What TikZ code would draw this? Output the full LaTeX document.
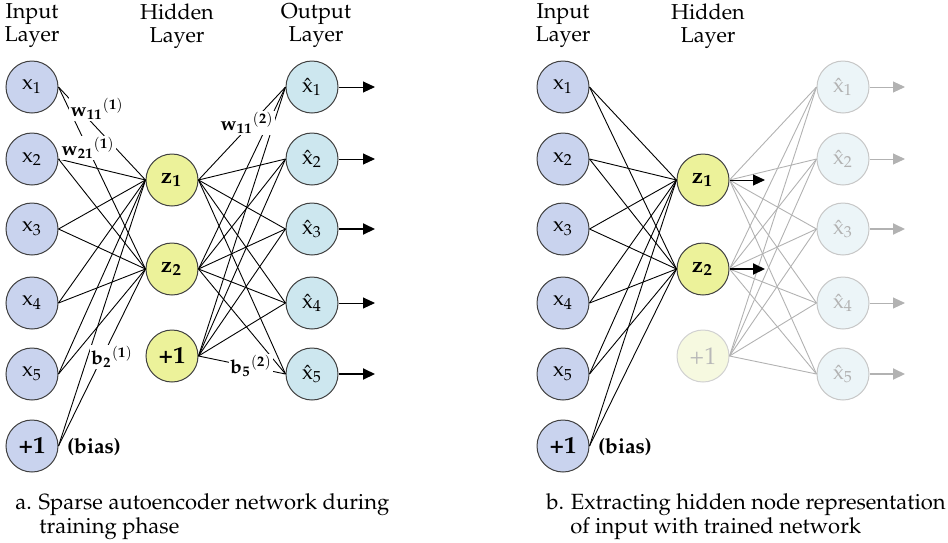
\documentclass[tikz,border=0pt]{standalone}
\usepackage[T1]{fontenc}
\usepackage{mathpazo}
\usepackage{amsmath}
\usetikzlibrary{arrows.meta}

\definecolor{inblue}{RGB}{201,211,238}
\definecolor{hidyellow}{RGB}{236,242,154}
\definecolor{outcyan}{RGB}{205,231,239}
\definecolor{fadecyan}{RGB}{236,245,248}
\definecolor{fadeyellow}{RGB}{246,249,224}
\definecolor{fadegray}{RGB}{178,178,178}

\newcommand{\bsym}[3]{$\mathbf{#1}_{\mathbf{#2}}{}^{\mathbf{#3}}$}

\tikzset{
  unit/.style={circle, draw=black!75, line width=0.5pt, minimum size=26pt,
    inner sep=0pt, font=\fontsize{10.5}{11}\selectfont},
  inunit/.style={unit, fill=inblue},
  hidunit/.style={unit, fill=hidyellow, font=\fontsize{11}{11}\selectfont\bfseries},
  outunit/.style={unit, fill=outcyan},
  ghostout/.style={unit, fill=fadecyan, draw=black!22, text=black!30},
  ghosthid/.style={hidunit, fill=fadeyellow, draw=black!18, text=black!28},
  link/.style={line width=0.45pt},
  ghostlink/.style={line width=0.45pt, draw=fadegray},
  weight/.style={fill=white, inner sep=0.6pt, font=\fontsize{9.5}{10}\selectfont},
  layer/.style={align=center, inner sep=0pt, anchor=north,
    font=\fontsize{10.8}{11.5}\selectfont},
  caption/.style={align=left, inner sep=0pt, anchor=north west,
    font=\fontsize{11}{11}\selectfont},
  outarrow/.style={-{Triangle[length=6pt,width=5.5pt]}, line width=0.5pt},
}

\begin{document}
\begin{tikzpicture}[x=0.5pt,y=-0.5pt]
    \useasboundingbox (0,0) rectangle (948,542);

    %a. training network
    \node [layer] (a-tin) at (32,3) {Input\\Layer};
    \node [layer] (a-thid) at (177,3) {Hidden\\Layer};
    \node [layer] (a-tout) at (316,3) {Output\\Layer};

    \node [inunit] (a-in1) at (32,87) {$\mathrm{x}_1$};
    \node [inunit] (a-in2) at (32,159) {$\mathrm{x}_2$};
    \node [inunit] (a-in3) at (32,229) {$\mathrm{x}_3$};
    \node [inunit] (a-in4) at (32,303) {$\mathrm{x}_4$};
    \node [inunit] (a-in5) at (32,374) {$\mathrm{x}_5$};
    \node [inunit, font=\fontsize{12}{12}\selectfont\bfseries] (a-in6) at (32,446) {+1};
    \node [font=\fontsize{10.5}{10}\selectfont\bfseries] (a-bias) at (94,447) {(bias)};

    \node [hidunit] (a-hid1) at (172,180) {\bsym{z}{1}{}};
    \node [hidunit] (a-hid2) at (172,269) {\bsym{z}{2}{}};
    \node [hidunit, font=\fontsize{12}{12}\selectfont\bfseries] (a-hid3) at (172,356) {+1};

    \node [outunit] (a-out1) at (312,87) {$\hat{\mathrm{x}}_1$};
    \node [outunit] (a-out2) at (312,159) {$\hat{\mathrm{x}}_2$};
    \node [outunit] (a-out3) at (312,229) {$\hat{\mathrm{x}}_3$};
    \node [outunit] (a-out4) at (312,303) {$\hat{\mathrm{x}}_4$};
    \node [outunit] (a-out5) at (312,374) {$\hat{\mathrm{x}}_5$};

    \foreach \i in {1,...,6}
      \foreach \j in {1,2}
        \draw [link] (a-in\i.east) -- (a-hid\j.west);
    \foreach \j in {1,2,3}
      \foreach \k in {1,...,5}
        \draw [link] (a-hid\j.east) -- (a-out\k.west);

    \coordinate (a-tip1) at (375,87);
    \coordinate (a-tip2) at (375,159);
    \coordinate (a-tip3) at (375,229);
    \coordinate (a-tip4) at (375,303);
    \coordinate (a-tip5) at (375,374);
    \draw [outarrow] (a-out1) -- (a-tip1);
    \draw [outarrow] (a-out2) -- (a-tip2);
    \draw [outarrow, line width=1pt] (a-out3) -- (a-tip3);
    \draw [outarrow] (a-out4) -- (a-tip4);
    \draw [outarrow, line width=1pt] (a-out5) -- (a-tip5);

    %weights
    \node [weight] (a-w111) at (97,109) {\bsym{w}{11}{(1)}};
    \node [weight] (a-w211) at (88,148) {\bsym{w}{21}{(1)}};
    \node [weight] (a-b21) at (112,357) {\bsym{b}{2}{(1)}};
    \node [weight] (a-w112) at (247,123) {\bsym{w}{11}{(2)}};
    \node [weight] (a-b52) at (251,366) {\bsym{b}{5}{(2)}};

    \node [caption] (a-cap) at (15,493)
      {a. Sparse autoencoder network during\\\hspace*{12pt}training phase};

    %b. extracting hidden representation
    \node [layer] (b-tin) at (563,3) {Input\\Layer};
    \node [layer] (b-thid) at (708,3) {Hidden\\Layer};

    \node [inunit] (b-in1) at (563,87) {$\mathrm{x}_1$};
    \node [inunit] (b-in2) at (563,159) {$\mathrm{x}_2$};
    \node [inunit] (b-in3) at (563,229) {$\mathrm{x}_3$};
    \node [inunit] (b-in4) at (563,303) {$\mathrm{x}_4$};
    \node [inunit] (b-in5) at (563,374) {$\mathrm{x}_5$};
    \node [inunit, font=\fontsize{12}{12}\selectfont\bfseries] (b-in6) at (563,446) {+1};
    \node [font=\fontsize{10.5}{10}\selectfont\bfseries] (b-bias) at (625,447) {(bias)};

    \node [hidunit] (b-hid1) at (703,180) {\bsym{z}{1}{}};
    \node [hidunit] (b-hid2) at (703,269) {\bsym{z}{2}{}};
    \node [ghosthid, font=\fontsize{12}{12}\selectfont] (b-hid3) at (703,356) {+1};

    \node [ghostout] (b-out1) at (843,87) {$\hat{\mathrm{x}}_1$};
    \node [ghostout] (b-out2) at (843,159) {$\hat{\mathrm{x}}_2$};
    \node [ghostout] (b-out3) at (843,229) {$\hat{\mathrm{x}}_3$};
    \node [ghostout] (b-out4) at (843,303) {$\hat{\mathrm{x}}_4$};
    \node [ghostout] (b-out5) at (843,374) {$\hat{\mathrm{x}}_5$};

    \foreach \j in {1,2,3}
      \foreach \k in {1,...,5}
        \draw [ghostlink] (b-hid\j.east) -- (b-out\k.west);
    \foreach \i in {1,...,6}
      \foreach \j in {1,2}
        \draw [link] (b-in\i.east) -- (b-hid\j.west);

    \coordinate (b-tip1) at (905,87);
    \coordinate (b-tip2) at (905,159);
    \coordinate (b-tip3) at (905,229);
    \coordinate (b-tip4) at (905,303);
    \coordinate (b-tip5) at (905,374);
    \draw [outarrow, draw=fadegray, fill=fadegray] (b-out1) -- (b-tip1);
    \draw [outarrow, draw=fadegray, fill=fadegray] (b-out2) -- (b-tip2);
    \draw [outarrow, draw=fadegray, fill=fadegray, line width=1pt] (b-out3) -- (b-tip3);
    \draw [outarrow, draw=fadegray, fill=fadegray] (b-out4) -- (b-tip4);
    \draw [outarrow, draw=fadegray, fill=fadegray, line width=1pt] (b-out5) -- (b-tip5);

    \coordinate (b-ztip1) at (765,180);
    \coordinate (b-ztip2) at (765,269);
    \draw [outarrow] (b-hid1) -- (b-ztip1);
    \draw [outarrow, line width=1pt] (b-hid2) -- (b-ztip2);

    \node [caption] (b-cap) at (546,493)
      {b. Extracting hidden node representation\\\hspace*{12pt}of input with trained network};
\end{tikzpicture}
\end{document}
